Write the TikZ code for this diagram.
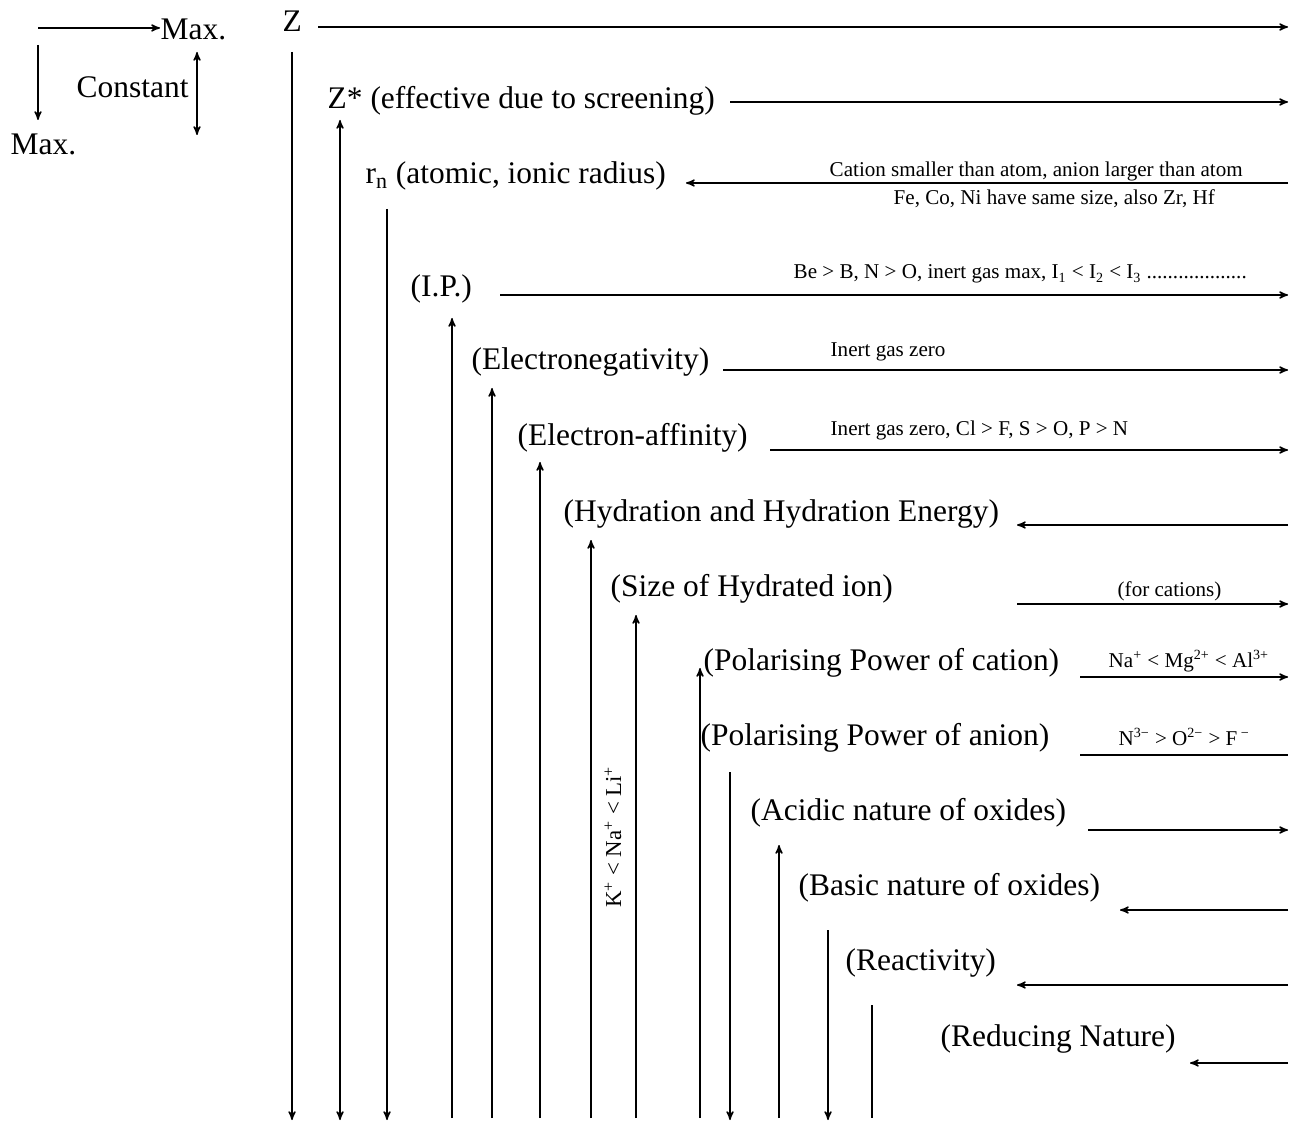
\documentclass[tikz,border=0pt]{standalone}
\usepackage{fontspec}
\setmainfont{Liberation Serif}
\usetikzlibrary{arrows}

\tikzset{
  prop/.style={anchor=base west, inner sep=0pt, font=\fontsize{17.9}{20}\selectfont},
  note/.style={anchor=base west, inner sep=0pt, font=\fontsize{12}{14}\selectfont},
}

\begin{document}
\begin{tikzpicture}[->,>=stealth',x=0.02cm,y=-0.02cm,line width=0.8pt]
\useasboundingbox (0,0) rectangle (1290,1124);

% key
\node[prop] (max1) at (160,40) {Max.};
\node[prop] (const) at (76,98) {Constant};
\node[prop] (max2) at (10,155) {Max.};
\coordinate (k0) at (38,28);
\coordinate (k1) at (38,45);
\coordinate (k2) at (38,120);
\coordinate (k3) at (197,52);
\coordinate (k4) at (197,135);

% properties
\node[prop] (Z) at (282,32) {Z};
\node[prop] (Zs) at (327,109) {Z* (effective due to screening)};
\node[prop] (rn) at (365,184) {r\textsubscript{n} (atomic, ionic radius)};
\node[prop] (ip) at (410,297) {(I.P.)};
\node[prop] (en) at (471,370) {(Electronegativity)};
\node[prop] (ea) at (517,446) {(Electron-affinity)};
\node[prop] (hyd) at (563,521) {(Hydration and Hydration Energy)};
\node[prop] (size) at (610,596) {(Size of Hydrated ion)};
\node[prop] (pcat) at (703,670) {(Polarising Power of cation)};
\node[prop] (pan) at (700,745) {(Polarising Power of anion)};
\node[prop] (acid) at (750,820) {(Acidic nature of oxides)};
\node[prop] (basic) at (798,895) {(Basic nature of oxides)};
\node[prop] (react) at (845,970) {(Reactivity)};
\node[prop] (red) at (940,1046) {(Reducing Nature)};

% remarks
\node[note] (rn1) at (829,177) {Cation smaller than atom, anion larger than atom};
\node[note] (rn2) at (893,205) {Fe, Co, Ni have same size, also Zr, Hf};
\node[note] (ip1) at (793,279) {Be > B, N > O, inert gas max, I\textsubscript{1} < I\textsubscript{2} < I\textsubscript{3} ...................};
\node[note] (en1) at (830,357) {Inert gas zero};
\node[note] (ea1) at (830,436) {Inert gas zero, Cl > F, S > O, P > N};
\node[note] (size1) at (1117,596) {(for cations)};
\node[note] (pcat1) at (1108,667) {Na\textsuperscript{+} < Mg\textsuperscript{2+} < Al\textsuperscript{3+}};
\node[note] (pan1) at (1118,745) {N\textsuperscript{3−} > O\textsuperscript{2−} > F\textsuperscript{ −}};
\node[rotate=90, inner sep=0pt, font=\fontsize{13}{15}\selectfont] (hyd1) at (613,837)
  {K\textsuperscript{+} < Na\textsuperscript{+} < Li\textsuperscript{+}};

% horizontal ends
\coordinate (Za) at (318,27);   \coordinate (Zb) at (1288,27);
\coordinate (Zsa) at (730,102); \coordinate (Zsb) at (1288,102);
\coordinate (rna) at (1288,183); \coordinate (rnb) at (686,183);
\coordinate (ipa) at (500,295); \coordinate (ipb) at (1288,295);
\coordinate (ena) at (723,370); \coordinate (enb) at (1288,370);
\coordinate (eaa) at (770,450); \coordinate (eab) at (1288,450);
\coordinate (hyda) at (1288,525); \coordinate (hydb) at (1017,525);
\coordinate (sizea) at (1017,604); \coordinate (sizeb) at (1288,604);
\coordinate (pcata) at (1080,677); \coordinate (pcatb) at (1288,677);
\coordinate (pana) at (1080,755); \coordinate (panb) at (1288,755);
\coordinate (acida) at (1088,830); \coordinate (acidb) at (1288,830);
\coordinate (basica) at (1288,910); \coordinate (basicb) at (1120,910);
\coordinate (reacta) at (1288,985); \coordinate (reactb) at (1017,985);
\coordinate (reda) at (1288,1063); \coordinate (redb) at (1190,1063);

% vertical ends
\coordinate (Zt) at (292,52);   \coordinate (Zu) at (292,1120);
\coordinate (Zst) at (340,120); \coordinate (Zsu) at (340,1120);
\coordinate (rnt) at (387,209); \coordinate (rnu) at (387,1120);
\coordinate (ipt) at (452,318); \coordinate (ipu) at (452,1118);
\coordinate (ent) at (492,388); \coordinate (enu) at (492,1118);
\coordinate (eat) at (540,462); \coordinate (eau) at (540,1118);
\coordinate (hydt) at (591,540); \coordinate (hydu) at (591,1118);
\coordinate (sizet) at (636,615); \coordinate (sizeu) at (636,1118);
\coordinate (pcatt) at (700,668); \coordinate (pcatu) at (700,1118);
\coordinate (pant) at (730,772); \coordinate (panu) at (730,1120);
\coordinate (acidt) at (779,845); \coordinate (acidu) at (779,1118);
\coordinate (basict) at (828,930); \coordinate (basicu) at (828,1120);
\coordinate (reactt) at (872,1005); \coordinate (reactu) at (872,1118);

\path
(k0) edge (k0 -| max1.west)
(k1) edge (k2)
(k3) edge[<->] (k4)

(Za) edge (Zb)
(Zsa) edge (Zsb)
(rna) edge (rnb)
(ipa) edge (ipb)
(ena) edge (enb)
(eaa) edge (eab)
(hyda) edge (hydb)
(sizea) edge (sizeb)
(pcata) edge (pcatb)
(pana) edge[-] (panb)
(acida) edge (acidb)
(basica) edge (basicb)
(reacta) edge (reactb)
(reda) edge (redb)

(Zt) edge (Zu)
(Zst) edge[<->] (Zsu)
(rnt) edge (rnu)
(ipu) edge (ipt)
(enu) edge (ent)
(eau) edge (eat)
(hydu) edge (hydt)
(sizeu) edge (sizet)
(pcatu) edge (pcatt)
(pant) edge (panu)
(acidu) edge (acidt)
(basict) edge (basicu)
(reactt) edge[-] (reactu)
;\end{tikzpicture}
\end{document}
